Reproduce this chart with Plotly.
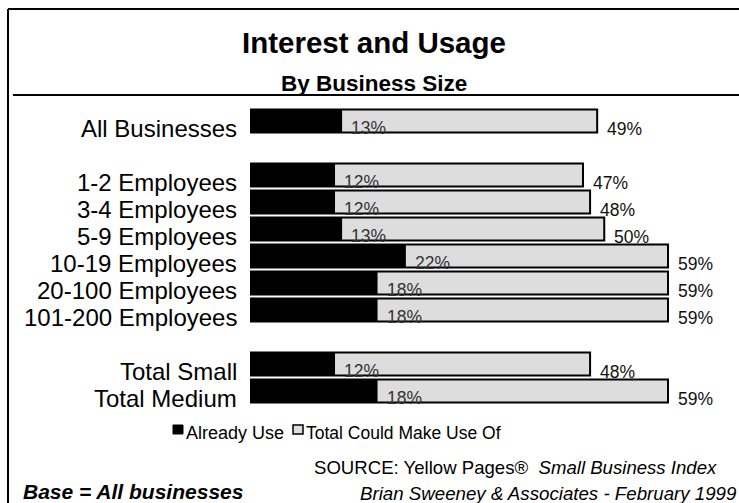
import plotly.graph_objects as go

# Survey results: share of businesses already using / that could use the service
categories = ["All Businesses", "1-2 Employees", "3-4 Employees", "5-9 Employees",
              "10-19 Employees", "20-100 Employees", "101-200 Employees",
              "Total Small", "Total Medium"]
already_use = [13, 12, 12, 13, 22, 18, 18, 12, 18]
could_use = [49, 47, 48, 50, 59, 59, 59, 48, 59]
group_sizes = [1, 6, 2]
series_names = ["Already Use", "Total Could Make Use Of"]

W, H = 739, 503
FONT = "Liberation Sans, Arial, sans-serif"


def px(x):
    return x / W


def py(y):
    return 1 - y / H


# row slots, with one empty slot between groups
rows = []
slot = 0
for size in group_sizes:
    rows.extend(range(slot, slot + size))
    slot += size + 1

fig = go.Figure()
fig.add_trace(go.Bar(
    y=rows, x=could_use, orientation="h", name=series_names[1], width=0.85,
    marker=dict(color="#DDDDDD", line=dict(color="black", width=2)),
    showlegend=False, hoverinfo="x+name",
))
fig.add_trace(go.Bar(
    y=rows, x=already_use, orientation="h", name=series_names[0], width=0.85,
    marker=dict(color="black", line=dict(width=0)),
    showlegend=False, hoverinfo="x+name",
))

ann = []
for r, cat, a, c in zip(rows, categories, already_use, could_use):
    ann.append(dict(x=0, y=r, xref="x", yref="y", text=cat, showarrow=False,
                    xanchor="right", yanchor="middle", xshift=-11, yshift=-7,
                    font=dict(family=FONT, size=24, color="black")))
    ann.append(dict(x=a, y=r, xref="x", yref="y", text=f"{a}%", showarrow=False,
                    xanchor="left", yanchor="middle", xshift=7, yshift=-7,
                    font=dict(family=FONT, size=17.5, color="#333333")))
    ann.append(dict(x=c, y=r, xref="x", yref="y", text=f"{c}%", showarrow=False,
                    xanchor="left", yanchor="middle", xshift=8, yshift=-8,
                    font=dict(family=FONT, size=17.5, color="#111111")))

# titles
ann.append(dict(x=px(374), y=py(43), xref="paper", yref="paper",
                text="<b>Interest and Usage</b>", showarrow=False,
                xanchor="center", yanchor="middle",
                font=dict(family=FONT, size=29.5, color="black")))
ann.append(dict(x=px(374), y=py(83), xref="paper", yref="paper",
                text="<b>By Business Size</b>", showarrow=False,
                xanchor="center", yanchor="middle",
                font=dict(family=FONT, size=22.5, color="black")))

# legend
ann.append(dict(x=px(184), y=py(433), xref="paper", yref="paper",
                text=series_names[0], showarrow=False, xanchor="left", yanchor="middle",
                font=dict(family=FONT, size=18, color="black")))
ann.append(dict(x=px(304), y=py(433), xref="paper", yref="paper",
                text=series_names[1], showarrow=False, xanchor="left", yanchor="middle",
                font=dict(family=FONT, size=17.5, color="black")))

# footer
ann.append(dict(x=px(312), y=py(467), xref="paper", yref="paper",
                text="SOURCE: Yellow Pages®  <i>Small Business Index</i>", showarrow=False,
                xanchor="left", yanchor="middle",
                font=dict(family=FONT, size=18.6, color="black")))
ann.append(dict(x=px(739), y=py(493), xref="paper", yref="paper",
                text="<i>Brian Sweeney &amp; Associates - February 1999</i>", showarrow=False,
                xanchor="right", yanchor="middle",
                font=dict(family=FONT, size=18.7, color="black")))
ann.append(dict(x=px(21), y=py(491), xref="paper", yref="paper",
                text="<b><i>Base = All businesses</i></b>", showarrow=False,
                xanchor="left", yanchor="middle",
                font=dict(family=FONT, size=21, color="black")))

shapes = [
    # frame: top and left edges
    dict(type="line", xref="paper", yref="paper", x0=px(8), x1=1, y0=py(9), y1=py(9),
         line=dict(color="black", width=2)),
    dict(type="line", xref="paper", yref="paper", x0=px(8), x1=px(8), y0=py(9), y1=0,
         line=dict(color="black", width=2)),
    # rule under the title
    dict(type="line", xref="paper", yref="paper", x0=px(13), x1=1, y0=py(95), y1=py(95),
         line=dict(color="black", width=2), layer="below"),
    # legend keys
    dict(type="rect", xref="paper", yref="paper", x0=px(173), x1=px(183),
         y0=py(434), y1=py(425), fillcolor="black", line=dict(color="black", width=1)),
    dict(type="rect", xref="paper", yref="paper", x0=px(293), x1=px(303),
         y0=py(434), y1=py(425), fillcolor="#DDDDDD", line=dict(color="black", width=1.5)),
]

x_scale = 7.085  # px per percent
fig.update_layout(
    width=W, height=H,
    margin=dict(l=0, r=0, t=0, b=0),
    paper_bgcolor="white", plot_bgcolor="white",
    barmode="overlay",
    xaxis=dict(domain=[px(250), 1], range=[0, (W - 250) / x_scale],
               visible=False, fixedrange=True),
    yaxis=dict(domain=[0, 1], range=[(H - 121) / 27, -121 / 27],
               visible=False, fixedrange=True),
    annotations=ann,
    shapes=shapes,
    showlegend=False,
)

fig.write_html("out.html")
